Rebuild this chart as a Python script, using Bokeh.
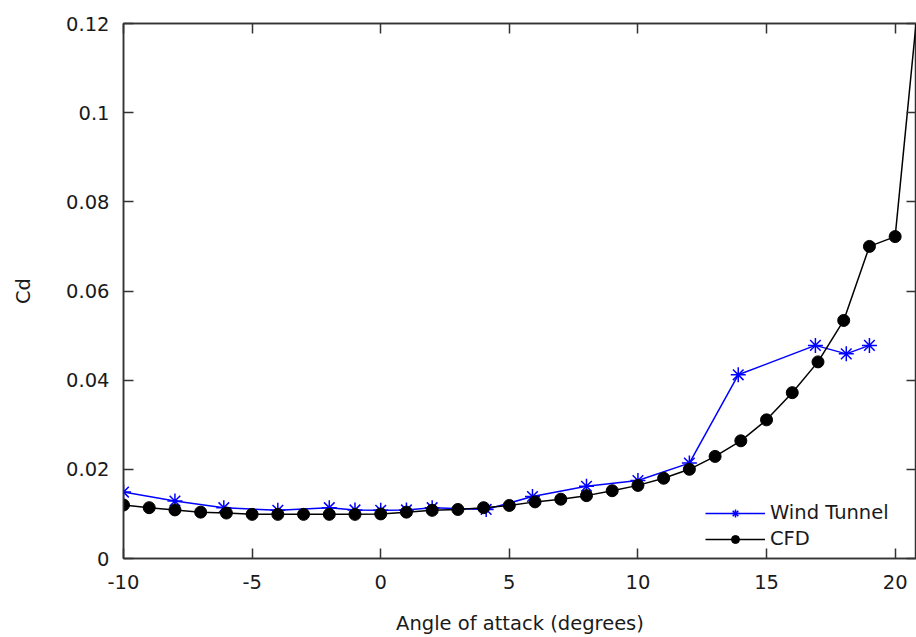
from bokeh.plotting import figure
from bokeh.models import (Range1d, LinearAxis, FixedTicker, Legend, LegendItem,
                          CustomLabelingPolicy)
from bokeh.embed import file_html
from bokeh.resources import INLINE

# ---- data ----
cfd_aoa = list(range(-10, 22))
cfd_cd = [0.0120, 0.0114, 0.0109, 0.0104, 0.0102, 0.0099, 0.0099, 0.0099,
          0.0099, 0.0099, 0.0100, 0.0104, 0.0108, 0.0110, 0.0114, 0.0119,
          0.0127, 0.0133, 0.0141, 0.0152, 0.0164, 0.0180, 0.0200, 0.0229,
          0.0264, 0.0311, 0.0372, 0.0441, 0.0534, 0.0700, 0.0722, 0.131]

wt_aoa = [-10, -8, -6.1, -4, -2, -1, 0, 1, 2, 4.1, 5.9, 8, 10, 12, 13.9,
          16.9, 18.1, 19]
wt_cd = [0.0149, 0.0129, 0.0114, 0.0108, 0.0114, 0.0109, 0.0108, 0.0109,
         0.0114, 0.0110, 0.0139, 0.0162, 0.0175, 0.0214, 0.0412, 0.0478,
         0.0459, 0.0478]

x_ticks = [-10, -5, 0, 5, 10, 15, 20]
x_tick_labels = {-10: "-10", -5: "-5", 0: "0", 5: "5", 10: "10", 15: "15",
                 20: "20"}
y_ticks = [0, 0.02, 0.04, 0.06, 0.08, 0.1, 0.12]
y_tick_labels = {0: "0", 0.02: "0.02", 0.04: "0.04", 0.06: "0.06",
                 0.08: "0.08", 0.1: "0.1", 0.12: "0.12"}

FONT = "DejaVu Sans"
FS = "19.5px"
TXT = "#1a1a1a"
AX = "#333333"

p = figure(width=916, height=637, output_backend="svg", toolbar_location=None,
           x_range=Range1d(-10, 20.83), y_range=Range1d(0, 0.12),
           min_border_left=123, min_border_right=0, min_border_top=23,
           min_border_bottom=79)
p.grid.visible = False
p.outline_line_color = AX
p.outline_line_width = 1.5
p.background_fill_color = "white"
p.border_fill_color = "white"

no_labels = CustomLabelingPolicy(code="""
    for (const i of indices) { indices.unset(i) }
    return indices
""")

def style_axis(ax, labels=True):
    ax.major_tick_in = 10
    ax.major_tick_out = 0
    ax.minor_tick_line_color = None
    ax.axis_line_color = AX
    ax.axis_line_width = 1.5
    ax.major_tick_line_color = AX
    ax.major_tick_line_width = 1.5
    if labels:
        ax.major_label_text_font = FONT
        ax.major_label_text_font_size = FS
        ax.major_label_text_color = TXT
        ax.axis_label_text_font = FONT
        ax.axis_label_text_font_size = FS
        ax.axis_label_text_font_style = "normal"
        ax.axis_label_text_color = TXT
    else:
        ax.major_label_policy = no_labels
        ax.major_label_text_font_size = "0px"
        ax.major_label_standoff = 0

xa = p.xaxis[0]
xa.ticker = FixedTicker(ticks=x_ticks)
xa.major_label_overrides = x_tick_labels
xa.axis_label = "Angle of attack (degrees)"
style_axis(xa)
xa.major_label_standoff = 16
xa.axis_label_standoff = 20

ya = p.yaxis[0]
ya.ticker = FixedTicker(ticks=y_ticks)
ya.major_label_overrides = y_tick_labels
ya.axis_label = "Cd"
style_axis(ya)
ya.major_label_standoff = 14
ya.axis_label_standoff = 28

top = LinearAxis(ticker=FixedTicker(ticks=x_ticks))
style_axis(top, labels=False)
p.add_layout(top, "above")
right = LinearAxis(ticker=FixedTicker(ticks=y_ticks))
style_axis(right, labels=False)
p.add_layout(right, "right")

wt_line = p.line(wt_aoa, wt_cd, line_color="#0000ff", line_width=1.5)
wt_pts = p.scatter(wt_aoa, wt_cd, marker="asterisk", size=15,
                   line_color="#0000ff", line_width=1.5)
cfd_line = p.line(cfd_aoa, cfd_cd, line_color="black", line_width=1.5)
cfd_pts = p.scatter(cfd_aoa, cfd_cd, marker="circle", size=12,
                    fill_color="black", line_color="black")

legend = Legend(items=[
    LegendItem(label="Wind Tunnel", renderers=[wt_line, wt_pts]),
    LegendItem(label="CFD", renderers=[cfd_line, cfd_pts]),
], location=(582, 8))
legend.border_line_color = None
legend.background_fill_alpha = 0
legend.label_text_font = FONT
legend.label_text_font_size = FS
legend.label_text_color = TXT
legend.glyph_width = 60
legend.glyph_height = 20
legend.label_height = 20
legend.spacing = 3
legend.padding = 4
p.add_layout(legend)

open("out.html", "w").write(file_html(p, INLINE))
